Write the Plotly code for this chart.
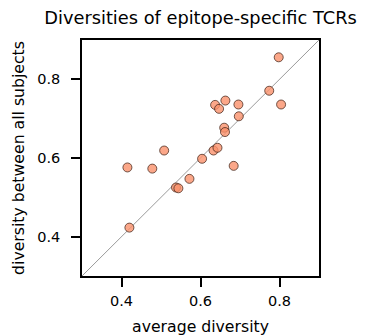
import plotly.graph_objects as go

avg_div = [0.798, 0.774, 0.804, 0.663, 0.637, 0.647, 0.696, 0.697, 0.660, 0.662,
           0.508, 0.415, 0.478, 0.604, 0.633, 0.643, 0.684, 0.572, 0.538, 0.544, 0.420]
all_div = [0.856, 0.771, 0.736, 0.746, 0.735, 0.725, 0.736, 0.706, 0.677, 0.666,
           0.619, 0.576, 0.573, 0.598, 0.619, 0.626, 0.580, 0.547, 0.525, 0.523, 0.423]
diag = [0.3, 0.9]
tick_vals = [0.4, 0.6, 0.8]
tick_text = ["0.4", "0.6", "0.8"]

fig = go.Figure()
fig.add_trace(go.Scatter(x=diag, y=diag, mode="lines",
                         line=dict(color="gray", width=0.8), hoverinfo="skip"))
fig.add_trace(go.Scatter(x=avg_div, y=all_div, mode="markers",
                         marker=dict(size=9, color="rgba(250,145,108,0.8)",
                                     line=dict(color="rgba(60,30,20,0.9)", width=0.8))))

font = "DejaVu Sans"
axis = dict(range=[0.3, 0.9], tickvals=tick_vals, ticktext=tick_text, automargin=False,
            showgrid=False, zeroline=False, showline=True, linecolor="black", linewidth=1.6,
            mirror=True, ticks="outside", ticklen=9, tickwidth=1.5, tickcolor="black",
            tickfont=dict(family=font, size=14.5, color="black"))
fig.update_layout(
    width=368, height=336, showlegend=False,
    margin=dict(l=82, r=49, t=40, b=60),
    plot_bgcolor="white", paper_bgcolor="white",
    title=dict(text="Diversities of epitope-specific TCRs", x=0.545, xanchor="center",
               y=0.948, yanchor="middle", font=dict(family=font, size=17.8, color="black")),
    xaxis=dict(axis, ticklabelstandoff=2,
               title=dict(text="average diversity", standoff=16,
                          font=dict(family=font, size=15.7, color="black"))),
    yaxis=dict(axis, ticklabelstandoff=8,
               title=dict(text="diversity between all subjects", standoff=9,
                          font=dict(family=font, size=15.7, color="black"))),
)
fig.write_html("out.html", config={"displayModeBar": False},
               post_script="document.body.style.margin='0';")
